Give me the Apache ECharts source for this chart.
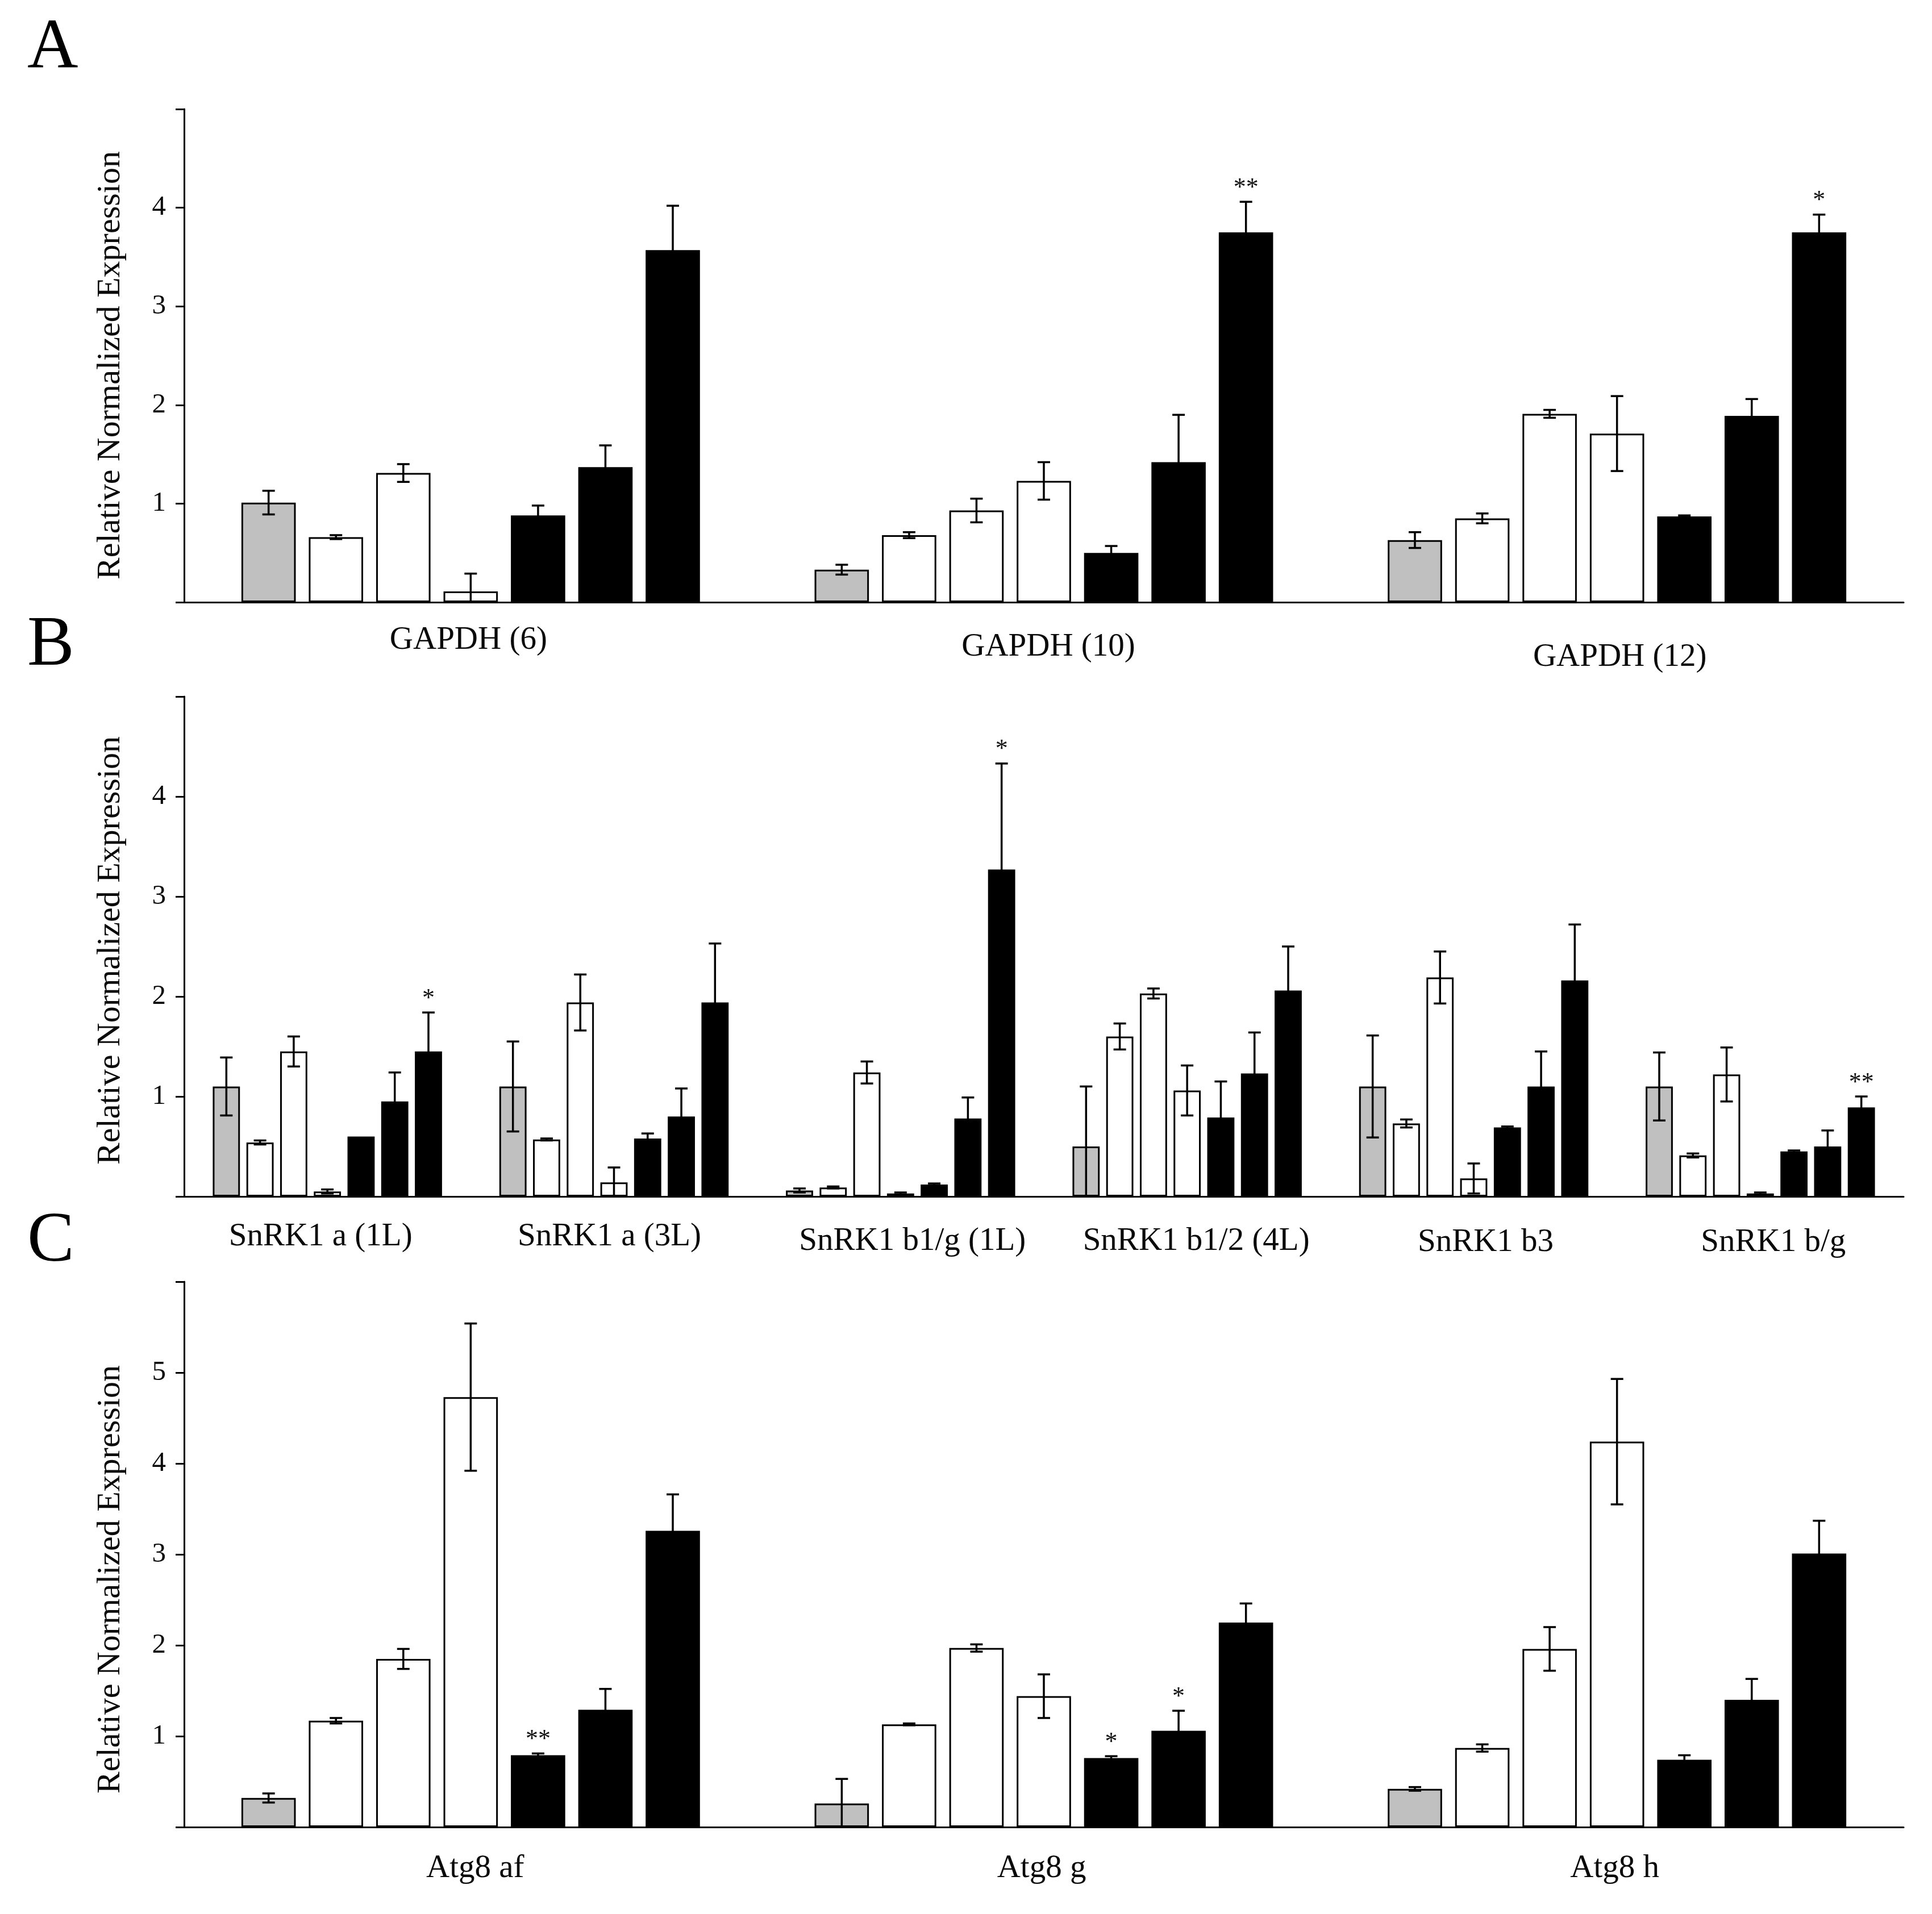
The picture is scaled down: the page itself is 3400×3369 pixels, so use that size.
<!DOCTYPE html>
<html>
<head>
<meta charset="utf-8">
<script src="https://cdn.jsdelivr.net/npm/echarts@6/dist/echarts.min.js"></script>
<style>
  html, body { margin: 0; padding: 0; background: #ffffff; }
  #chart { width: 3400px; height: 3369px; }
</style>
</head>
<body>
<div id="chart"></div>
<script>
// ---------------- DATA ----------------
// Each inner array = one gene group; 7 bars: grey, white x3, black x3
const gapdhCats = ['GAPDH (6)', 'GAPDH (10)', 'GAPDH (12)'];
const gapdhMean = [
  [1.01, 0.66, 1.31, 0.11, 0.88, 1.37, 3.57],
  [0.33, 0.68, 0.93, 1.23, 0.50, 1.42, 3.75],
  [0.63, 0.85, 1.91, 1.71, 0.87, 1.89, 3.75]
];
const gapdhErr = [
  [0.12, 0.02, 0.09, 0.18, 0.10, 0.22, 0.45],
  [0.05, 0.03, 0.12, 0.19, 0.07, 0.48, 0.31],
  [0.08, 0.05, 0.04, 0.38, 0.01, 0.17, 0.18]
];
const gapdhSig = [[1, 6, '**'], [2, 6, '*']];

const snrkCats = ['SnRK1 a (1L)', 'SnRK1 a (3L)', 'SnRK1 b1/g (1L)', 'SnRK1 b1/2 (4L)', 'SnRK1 b3', 'SnRK1 b/g'];
const snrkMean = [
  [1.10, 0.54, 1.45, 0.05, 0.60, 0.95, 1.45],
  [1.10, 0.57, 1.94, 0.14, 0.58, 0.80, 1.94],
  [0.06, 0.09, 1.24, 0.03, 0.12, 0.78, 3.27],
  [0.50, 1.60, 2.03, 1.06, 0.79, 1.23, 2.06],
  [1.10, 0.73, 2.19, 0.18, 0.69, 1.10, 2.16],
  [1.10, 0.41, 1.22, 0.03, 0.45, 0.50, 0.89]
];
const snrkErr = [
  [0.29, 0.02, 0.15, 0.02, 0.00, 0.29, 0.39],
  [0.45, 0.01, 0.28, 0.15, 0.05, 0.28, 0.59],
  [0.02, 0.01, 0.11, 0.01, 0.01, 0.21, 1.06],
  [0.60, 0.13, 0.05, 0.25, 0.36, 0.41, 0.44],
  [0.51, 0.04, 0.26, 0.15, 0.01, 0.35, 0.56],
  [0.34, 0.02, 0.27, 0.01, 0.01, 0.16, 0.11]
];
const snrkSig = [[0, 6, '*'], [2, 6, '*'], [5, 6, '**']];

const atgCats = ['Atg8 af', 'Atg8 g', 'Atg8 h'];
const atgMean = [
  [0.32, 1.17, 1.85, 4.73, 0.79, 1.29, 3.26],
  [0.26, 1.13, 1.97, 1.44, 0.76, 1.06, 2.25],
  [0.42, 0.87, 1.96, 4.24, 0.74, 1.40, 3.01]
];
const atgErr = [
  [0.05, 0.03, 0.11, 0.81, 0.02, 0.23, 0.40],
  [0.27, 0.01, 0.04, 0.24, 0.02, 0.22, 0.21],
  [0.02, 0.04, 0.24, 0.69, 0.05, 0.23, 0.36]
];
const atgSig = [[0, 4, '**'], [1, 4, '*'], [1, 5, '*']];

const yTitle = 'Relative Normalized Expression';
const panelLetters = ['A', 'B', 'C'];

// ---------------- STYLE / LAYOUT ----------------
const barFills = ['#c0c0c0', '#ffffff', '#ffffff', '#ffffff', '#000000', '#000000', '#000000'];
const FONT = '"Liberation Serif", "Times New Roman", serif';
const N_BARS = 7;
const CAT_GAP = 0.2;
const BAR_GAP = 0.24;
const GRID_LEFT = 324;
const GRID_WIDTH = 3026;
// label nudges [dx, dy] per category (layout only)
const gapdhNudge = [[-4, 0], [8, 12], [5, 30]];
const snrkNudge = [[-12, 0], [-8, 0], [21, 8], [16, 8], [21, 10], [23, 10]];
const atgNudge = [[8, 0], [-4, 0], [-4, 0]];

const panels = [
  { cats: gapdhCats, mean: gapdhMean, err: gapdhErr, sig: gapdhSig, max: 5, top: 192, height: 868, margin: 39, nudge: gapdhNudge, letterY: 86, titleShift: 34 },
  { cats: snrkCats, mean: snrkMean, err: snrkErr, sig: snrkSig, max: 5, top: 1226, height: 880, margin: 43, nudge: snrkNudge, letterY: 1137, titleShift: 14 },
  { cats: atgCats, mean: atgMean, err: atgErr, sig: atgSig, max: 6, top: 2256, height: 960, margin: 45, nudge: atgNudge, letterY: 2186, titleShift: 88 }
];

function barCenterX(api, cat, bar) {
  const band = api.size([1, 0])[0];
  const usable = band * (1 - CAT_GAP);
  const w = usable / (N_BARS + (N_BARS - 1) * BAR_GAP);
  return api.coord([cat, 0])[0] - usable / 2 + bar * w * (1 + BAR_GAP) + w / 2;
}

const grids = [], xAxes = [], yAxes = [], series = [], graphics = [];

panels.forEach(function (p, pi) {
  grids.push({ left: GRID_LEFT, top: p.top, width: GRID_WIDTH, height: p.height, containLabel: false, outerBoundsMode: 'none' });

  const rich = {};
  p.nudge.forEach(function (n, i) {
    const dx = n[0], dy = n[1];
    rich['l' + i] = {
      fontSize: 57, fontFamily: FONT, color: '#0a0a0a',
      padding: [dy, dx < 0 ? -2 * dx : 0, 0, dx > 0 ? 2 * dx : 0]
    };
  });

  xAxes.push({
    type: 'category', gridIndex: pi, data: p.cats,
    axisLine: { show: true, lineStyle: { color: '#000', width: 3 } },
    axisTick: { show: false },
    axisLabel: {
      margin: p.margin, interval: 0,
      formatter: function (v, i) { return '{l' + i + '|' + v + '}'; },
      rich: rich
    },
    splitLine: { show: false }
  });

  yAxes.push({
    type: 'value', gridIndex: pi, min: 0, max: p.max, interval: 1,
    axisLine: { show: true, lineStyle: { color: '#000', width: 3 } },
    axisTick: { show: true, inside: false, length: 15, lineStyle: { color: '#000', width: 3 } },
    splitLine: { show: false },
    axisLabel: {
      margin: 32, fontSize: 49, fontFamily: FONT, color: '#0a0a0a',
      formatter: function (v) { return (v === 0 || v === p.max) ? '' : String(v); }
    },
    name: yTitle, nameLocation: 'middle', nameGap: 100,
    nameTextStyle: { fontSize: 58, fontFamily: FONT, color: '#0a0a0a', padding: [0, p.titleShift, 0, 0] }
  });

  for (let s = 0; s < N_BARS; s++) {
    series.push({
      type: 'bar', xAxisIndex: pi, yAxisIndex: pi,
      data: p.mean.map(function (g) { return g[s]; }),
      barGap: (BAR_GAP * 100) + '%', barCategoryGap: (CAT_GAP * 100) + '%',
      itemStyle: { color: barFills[s], borderColor: '#000', borderWidth: 3 },
      silent: true, animation: false
    });
  }

  const errItems = [];
  p.mean.forEach(function (g, c) {
    g.forEach(function (m, b) { errItems.push([c, b, m, p.err[c][b]]); });
  });
  series.push({
    type: 'custom', xAxisIndex: pi, yAxisIndex: pi, z: 5, silent: true, animation: false,
    encode: { x: 0, y: 2 },
    data: errItems,
    renderItem: function (params, api) {
      const c = api.value(0), b = api.value(1), m = api.value(2), e = api.value(3);
      if (!(e > 0)) return null;
      const x = barCenterX(api, c, b);
      const yT = api.coord([c, m + e])[1];
      const yB = api.coord([c, Math.max(0, m - e)])[1];
      const cap = 11;
      const st = { stroke: '#000', lineWidth: 3.5 };
      const kids = [
        { type: 'line', shape: { x1: x, y1: yT, x2: x, y2: yB }, style: st },
        { type: 'line', shape: { x1: x - cap, y1: yT, x2: x + cap, y2: yT }, style: st }
      ];
      if (m - e > 0) kids.push({ type: 'line', shape: { x1: x - cap, y1: yB, x2: x + cap, y2: yB }, style: st });
      return { type: 'group', children: kids };
    }
  });

  const sigItems = p.sig.map(function (sg) {
    const c = sg[0], b = sg[1];
    return [c, b, p.mean[c][b] + p.err[c][b]];
  });
  series.push({
    type: 'custom', xAxisIndex: pi, yAxisIndex: pi, z: 6, silent: true, animation: false,
    encode: { x: 0, y: 2 },
    data: sigItems,
    renderItem: function (params, api) {
      const c = api.value(0), b = api.value(1), top = api.value(2);
      const x = barCenterX(api, c, b);
      const y = api.coord([c, top])[1];
      return {
        type: 'text',
        style: {
          text: p.sig[params.dataIndex][2], x: x, y: y - 2,
          align: 'center', verticalAlign: 'bottom',
          font: '44px ' + FONT, fill: '#111'
        }
      };
    }
  });

  graphics.push({
    type: 'text', left: 48, top: p.letterY - 62,
    style: { text: panelLetters[pi], font: '124px ' + FONT, fill: '#000' }
  });
});

const chart = echarts.init(document.getElementById('chart'), null, { renderer: 'canvas' });
chart.setOption({
  backgroundColor: '#ffffff',
  animation: false,
  grid: grids,
  xAxis: xAxes,
  yAxis: yAxes,
  series: series,
  graphic: graphics
});
</script>
</body>
</html>
